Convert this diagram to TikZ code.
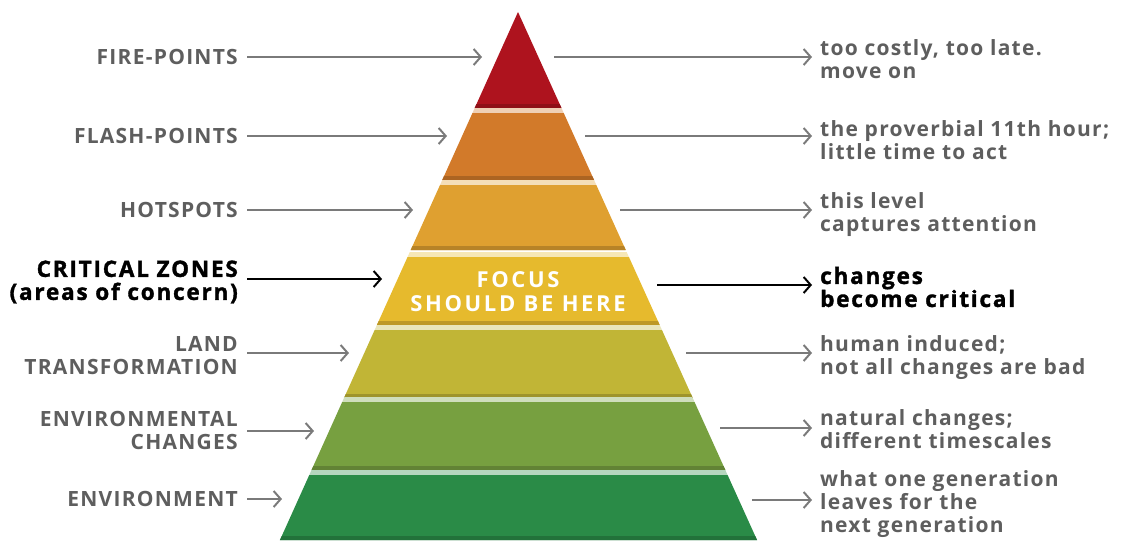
\documentclass[tikz,border=0pt]{standalone}
\usepackage{fontspec}
\setmainfont{Open Sans}[LetterSpace=6]
\newfontfamily\keyfont{Open Sans}[LetterSpace=8,FakeBold=1.5]
\newfontfamily\focusfont{Open Sans}[LetterSpace=12]
\usetikzlibrary{arrows.meta,calc}
\definecolor{lblgray}{HTML}{5E5E5E}
\definecolor{arrgray}{HTML}{7A7A7A}
\definecolor{cRed}{HTML}{AE131E}
\definecolor{cOrange}{HTML}{D27A2A}
\definecolor{cHot}{HTML}{DFA030}
\definecolor{cCrit}{HTML}{E6BA2D}
\definecolor{cLand}{HTML}{C1B536}
\definecolor{cEnvC}{HTML}{77A040}
\definecolor{cEnv}{HTML}{2A8B47}
\newcommand\pyrlayer[3]{%
  \pgfmathsetmacro\lt{518-0.4508*(#1-12)}%
  \pgfmathsetmacro\rt{518+0.4527*(#1-12)}%
  \pgfmathsetmacro\lb{518-0.4508*(#2-12)}%
  \pgfmathsetmacro\rb{518+0.4527*(#2-12)}%
  \pgfmathsetmacro\ls{518-0.4508*(#2-16)}%
  \pgfmathsetmacro\rs{518+0.4527*(#2-16)}%
  \pgfmathsetmacro\lg{518-0.4508*(#1-17)}%
  \pgfmathsetmacro\rg{518+0.4527*(#1-17)}%
  \ifnum#1>20
    \fill[#3!35!white] (\lg,#1-5) -- (\rg,#1-5) -- (\rt,#1) -- (\lt,#1) -- cycle;
  \fi
  \fill[#3] (\lt,#1) -- (\rt,#1) -- (\rb,#2) -- (\lb,#2) -- cycle;
  \fill[#3!82!black] (\ls,#2-4) -- (\rs,#2-4) -- (\rb,#2) -- (\lb,#2) -- cycle;
}
\tikzset{
  lbl/.style={font=\bfseries\fontsize{21}{23}\selectfont, text=lblgray, inner sep=0pt},
  lblL/.style={lbl, anchor=east, align=right},
  lblR/.style={lbl, anchor=west, align=left},
  key/.style={text=black, font=\keyfont\bfseries\fontsize{22.5}{23}\selectfont},
  arr/.style={draw=arrgray, line width=2pt, -{Straight Barb[length=7pt,width=16pt,line width=2pt]}},
  keyarr/.style={arr, draw=black},
  focus/.style={font=\focusfont\bfseries\fontsize{22}{24}\selectfont, text=white, align=center, inner sep=0pt}
}
\begin{document}
\begin{tikzpicture}[x=1pt,y=-1pt]
\useasboundingbox (0,0) rectangle (1122,541);
% pyramid
\pyrlayer{12}{108}{cRed}
\pyrlayer{113}{180}{cOrange}
\pyrlayer{185}{250}{cHot}
\pyrlayer{257}{325}{cCrit}
\pyrlayer{330}{398}{cLand}
\pyrlayer{402}{470}{cEnvC}
\pyrlayer{475}{540}{cEnv}
\node[focus] (focus) at (518,292) {FOCUS\\SHOULD BE HERE};
% left labels
\node[lblL] (fp) at (238,57) {FIRE-POINTS};
\node[lblL] (flp) at (238,136) {FLASH-POINTS};
\node[lblL] (hs) at (238,210) {HOTSPOTS};
\node[lblL,key] (cz) at (238,282) {CRITICAL ZONES\\(areas of concern)};
\node[lblL] (lt) at (238,356) {LAND\\TRANSFORMATION};
\node[lblL] (ec) at (238,430) {ENVIRONMENTAL\\CHANGES};
\node[lblL] (en) at (238,499) {ENVIRONMENT};
% right labels
\node[lblR] (r1) at (820,59) {too costly, too late.\\move on};
\node[lblR] (r2) at (820,140) {the proverbial 11th hour;\\little time to act};
\node[lblR] (r3) at (820,215) {this level\\captures attention};
\node[lblR,key] (r4) at (820,287) {changes\\become critical};
\node[lblR] (r5) at (820,358) {human induced;\\not all changes are bad};
\node[lblR] (r6) at (820,429) {natural changes;\\different timescales};
\node[lblR] (r7) at (820,504) {what one generation\\leaves for the\\next generation};
% arrow end points at the pyramid
\coordinate (fpT) at (482,57);
\coordinate (flpT) at (447,136);
\coordinate (hsT) at (413,210);
\coordinate (czT) at (382,279);
\coordinate (ltT) at (349,353);
\coordinate (ecT) at (314,431);
\coordinate (enT) at (282,499);
\coordinate (r1S) at (554,57);
\coordinate (r2S) at (585,136);
\coordinate (r3S) at (620,210);
\coordinate (r4S) at (657,285);
\coordinate (r5S) at (686,353);
\coordinate (r6S) at (720,428);
\coordinate (r7S) at (752,500);
% left arrows
\draw[arr, shorten <=9pt] (fpT -| fp.east) -- (fpT);
\draw[arr, shorten <=9pt] (flpT -| flp.east) -- (flpT);
\draw[arr, shorten <=9pt] (hsT -| hs.east) -- (hsT);
\draw[keyarr, shorten <=9pt] (czT -| cz.east) -- (czT);
\draw[arr, shorten <=9pt] (ltT -| lt.east) -- (ltT);
\draw[arr, shorten <=9pt] (ecT -| ec.east) -- (ecT);
\draw[arr, shorten <=9pt] (enT -| en.east) -- (enT);
% right arrows
\draw[arr, shorten >=8pt] (r1S) -- (r1S -| r1.west);
\draw[arr, shorten >=8pt] (r2S) -- (r2S -| r2.west);
\draw[arr, shorten >=8pt] (r3S) -- (r3S -| r3.west);
\draw[keyarr, shorten >=8pt] (r4S) -- (r4S -| r4.west);
\draw[arr, shorten >=8pt] (r5S) -- (r5S -| r5.west);
\draw[arr, shorten >=8pt] (r6S) -- (r6S -| r6.west);
\draw[arr, shorten >=8pt] (r7S) -- (r7S -| r7.west);
\end{tikzpicture}
\end{document}
